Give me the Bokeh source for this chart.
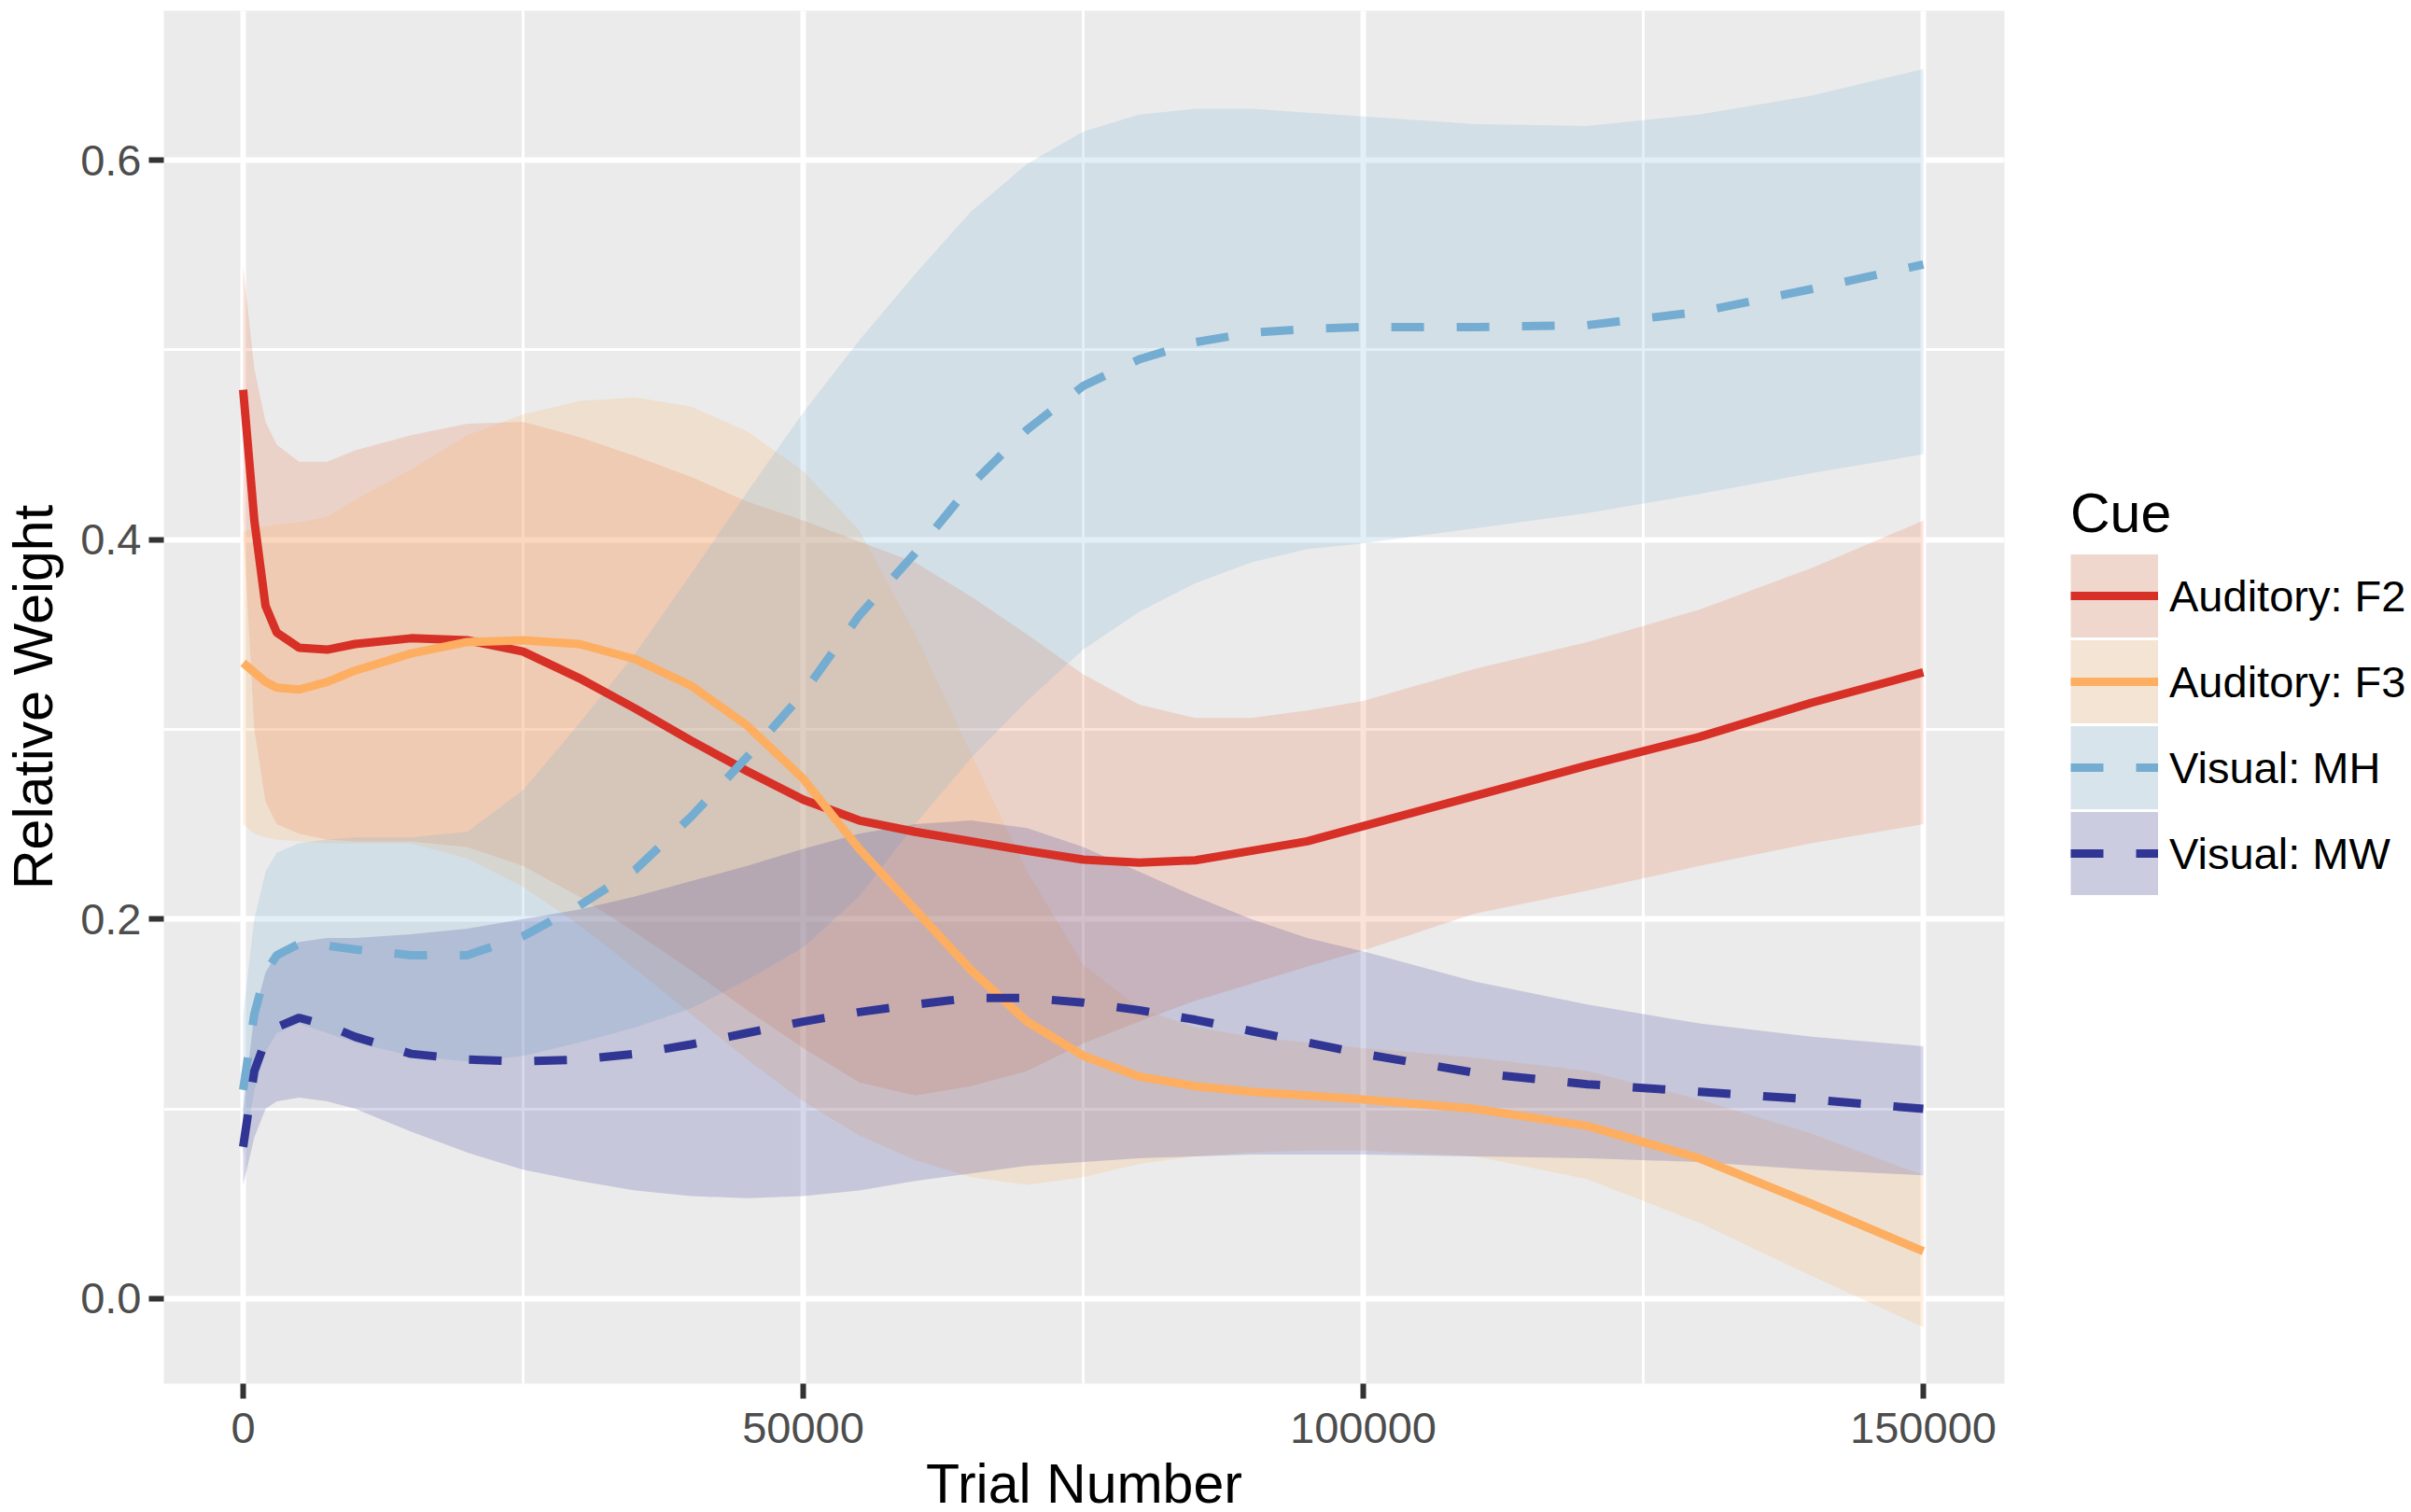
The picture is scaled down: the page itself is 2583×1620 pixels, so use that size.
import numpy as np
from bokeh.plotting import figure
from bokeh.models import (Range1d, FixedTicker, Legend, LegendItem,
                          NumeralTickFormatter)
from bokeh.embed import file_html
from bokeh.resources import INLINE

FONT = "Liberation Sans"

# ---------------- data ----------------
trial = [0, 1000, 2000, 3000, 5000, 7500, 10000, 15000, 20000, 25000, 30000,
         35000, 40000, 45000, 50000, 55000, 60000, 65000, 70000, 75000, 80000,
         85000, 90000, 95000, 100000, 110000, 120000, 130000, 140000, 150000]

f2_mean = [0.479, 0.41, 0.365, 0.351, 0.343, 0.342, 0.345, 0.348, 0.347, 0.341, 0.327,
           0.311, 0.294, 0.278, 0.263, 0.252, 0.246, 0.241, 0.236, 0.2314, 0.2298,
           0.231, 0.236, 0.241, 0.249, 0.265, 0.281, 0.296, 0.314, 0.330]
f2_lower = [0.41, 0.30, 0.262, 0.25, 0.245, 0.242, 0.241, 0.241, 0.238, 0.228, 0.212,
            0.193, 0.173, 0.152, 0.132, 0.114, 0.107, 0.112, 0.12, 0.1345, 0.146,
            0.157, 0.166, 0.175, 0.1835, 0.203, 0.215, 0.228, 0.24, 0.25]
f2_upper = [0.544, 0.49, 0.462, 0.45, 0.441, 0.441, 0.447, 0.455, 0.461, 0.462, 0.454,
            0.444, 0.433, 0.42, 0.41, 0.399, 0.388, 0.37, 0.35, 0.329, 0.313,
            0.306, 0.306, 0.310, 0.315, 0.332, 0.346, 0.363, 0.385, 0.41]

f3_mean = [0.335, 0.33, 0.325, 0.322, 0.321, 0.325, 0.331, 0.34, 0.346, 0.347, 0.345,
           0.337, 0.323, 0.302, 0.274, 0.237, 0.205, 0.173, 0.146, 0.128, 0.117,
           0.112, 0.109, 0.107, 0.105, 0.1, 0.091, 0.074, 0.05, 0.025]
f3_lower = [0.25, 0.245, 0.243, 0.242, 0.241, 0.24, 0.24, 0.24, 0.232, 0.217, 0.197,
            0.174, 0.15, 0.126, 0.104, 0.086, 0.073, 0.064, 0.06, 0.064, 0.071,
            0.075, 0.077, 0.078, 0.078, 0.075, 0.063, 0.04, 0.012, -0.015]
f3_upper = [0.404, 0.406, 0.407, 0.408, 0.409, 0.412, 0.421, 0.437, 0.455, 0.466, 0.473,
            0.475, 0.47, 0.457, 0.436, 0.405, 0.35, 0.287, 0.225, 0.176, 0.153,
            0.143, 0.138, 0.135, 0.132, 0.127, 0.12, 0.105, 0.087, 0.065]

mh_mean = [0.11, 0.15, 0.172, 0.181, 0.187, 0.186, 0.184, 0.181, 0.181, 0.191, 0.207,
           0.226, 0.254, 0.2855, 0.319, 0.36, 0.393, 0.429, 0.458, 0.481, 0.495,
           0.504, 0.509, 0.511, 0.512, 0.512, 0.513, 0.52, 0.532, 0.545]
mh_lower = [0.075, 0.11, 0.13, 0.14, 0.145, 0.14, 0.135, 0.128, 0.125, 0.128, 0.135,
            0.143, 0.153, 0.168, 0.185, 0.212, 0.25, 0.285, 0.315, 0.342, 0.362,
            0.377, 0.388, 0.395, 0.398, 0.406, 0.414, 0.424, 0.435, 0.445]
mh_upper = [0.15, 0.2, 0.225, 0.235, 0.24, 0.242, 0.243, 0.243, 0.246, 0.268, 0.303,
            0.34, 0.382, 0.425, 0.467, 0.505, 0.54, 0.573, 0.598, 0.615, 0.624,
            0.627, 0.627, 0.625, 0.623, 0.619, 0.618, 0.624, 0.634, 0.648]

mw_mean = [0.08, 0.12, 0.136, 0.143, 0.148, 0.144, 0.138, 0.129, 0.126, 0.125, 0.126,
           0.129, 0.134, 0.14, 0.146, 0.151, 0.155, 0.1585, 0.1585, 0.156, 0.152,
           0.147, 0.141, 0.135, 0.129, 0.119, 0.113, 0.109, 0.105, 0.1]
mw_lower = [0.06, 0.085, 0.1, 0.104, 0.106, 0.104, 0.1, 0.088, 0.077, 0.068, 0.062,
            0.057, 0.054, 0.053, 0.054, 0.057, 0.062, 0.066, 0.07, 0.072, 0.074,
            0.075, 0.076, 0.076, 0.076, 0.075, 0.074, 0.072, 0.068, 0.065]
mw_upper = [0.1, 0.15, 0.172, 0.182, 0.188, 0.19, 0.19, 0.192, 0.195, 0.2, 0.205,
            0.212, 0.22, 0.228, 0.237, 0.245, 0.25, 0.252, 0.248, 0.238, 0.225,
            0.212, 0.2, 0.19, 0.183, 0.167, 0.155, 0.145, 0.138, 0.133]

cue_labels = ["Auditory: F2", "Auditory: F3", "Visual: MH", "Visual: MW"]
line_colors = ["#D73027", "#FDAE61", "#74ADD1", "#313695"]
fill_colors = ["#E9703F", "#FDAE61", "#74ADD1", "#313695"]
dashes = ["solid", "solid", "35 35", "35 35"]

x_ticks = [0, 50000, 100000, 150000]
x_minor = [25000, 75000, 125000]
y_ticks = [0.0, 0.2, 0.4, 0.6]
y_minor = [0.1, 0.3, 0.5]

series = [(f2_mean, f2_lower, f2_upper), (f3_mean, f3_lower, f3_upper),
          (mh_mean, mh_lower, mh_upper), (mw_mean, mw_lower, mw_upper)]

# ---------------- figure ----------------
FRAME_W, FRAME_H = 1972, 1471
p = figure(frame_width=FRAME_W, frame_height=FRAME_H,
           x_range=Range1d(-7083, 157250), y_range=Range1d(-0.0448, 0.6787),
           output_backend="svg", toolbar_location=None,
           min_border_left=173, min_border_top=11, min_border_bottom=128,
           min_border_right=2580 - 173 - FRAME_W)
p.background_fill_color = "#EBEBEB"
p.border_fill_color = "white"
p.outline_line_color = None

p.xaxis.ticker = FixedTicker(ticks=x_ticks, minor_ticks=x_minor)
p.yaxis.ticker = FixedTicker(ticks=y_ticks, minor_ticks=y_minor)
p.xaxis.formatter = NumeralTickFormatter(format="0")
p.yaxis.formatter = NumeralTickFormatter(format="0.0")

for g in (p.xgrid, p.ygrid):
    g.grid_line_color = "white"
    g.grid_line_width = 6
    g.minor_grid_line_color = "white"
    g.minor_grid_line_width = 3

for ax in (p.xaxis, p.yaxis):
    ax.axis_line_color = None
    ax.major_tick_line_color = "#333333"
    ax.major_tick_line_width = 6
    ax.major_tick_in = 0
    ax.major_tick_out = 16
    ax.minor_tick_line_color = None
    ax.major_label_text_font = FONT
    ax.major_label_text_font_size = "47px"
    ax.major_label_text_color = "#4D4D4D"
    ax.axis_label_text_font = FONT
    ax.axis_label_text_font_size = "59px"
    ax.axis_label_text_font_style = "normal"
    ax.axis_label_text_color = "black"

p.xaxis.axis_label = "Trial Number"
p.yaxis.axis_label = "Relative Weight"
p.xaxis.major_label_standoff = 15
p.yaxis.major_label_standoff = 8
p.xaxis.axis_label_standoff = 8
p.yaxis.axis_label_standoff = 14

bands = []
for (m, lo, hi), fc in zip(series, fill_colors):
    bands.append(p.varea(x=trial, y1=lo, y2=hi, fill_color=fc, fill_alpha=0.2))

lines = []
for (m, lo, hi), lc, d in zip(series, line_colors, dashes):
    lines.append(p.line(x=trial, y=m, line_color=lc, line_width=9, line_dash=d))

# legend keys: grey95 key background + translucent ribbon colour, drawn as
# thick legend strokes; the renderers hold a single NaN point, so they draw
# nothing inside the plot itself
nan_pt = np.array([np.nan])
key_bg = p.line(x=nan_pt, y=nan_pt, line_color="#F2F2F2", line_width=89)
key_fills = [p.line(x=nan_pt, y=nan_pt, line_color=fc, line_alpha=0.2,
                    line_width=89) for fc in fill_colors]

items = [LegendItem(label=lab, renderers=[key_bg, kf, l])
         for lab, kf, l in zip(cue_labels, key_fills, lines)]

legend = Legend(items=items, title="Cue", location=(71, 522),
                orientation="vertical", glyph_width=94, glyph_height=92,
                label_height=92, spacing=0, padding=0, margin=0,
                label_standoff=12, title_standoff=8,
                border_line_color=None, background_fill_alpha=0,
                label_text_font=FONT, label_text_font_size="47px",
                label_text_color="black",
                title_text_font=FONT, title_text_font_size="59px",
                title_text_font_style="normal", title_text_color="black")
p.add_layout(legend, "right")

open("out.html", "w").write(file_html(p, INLINE))
